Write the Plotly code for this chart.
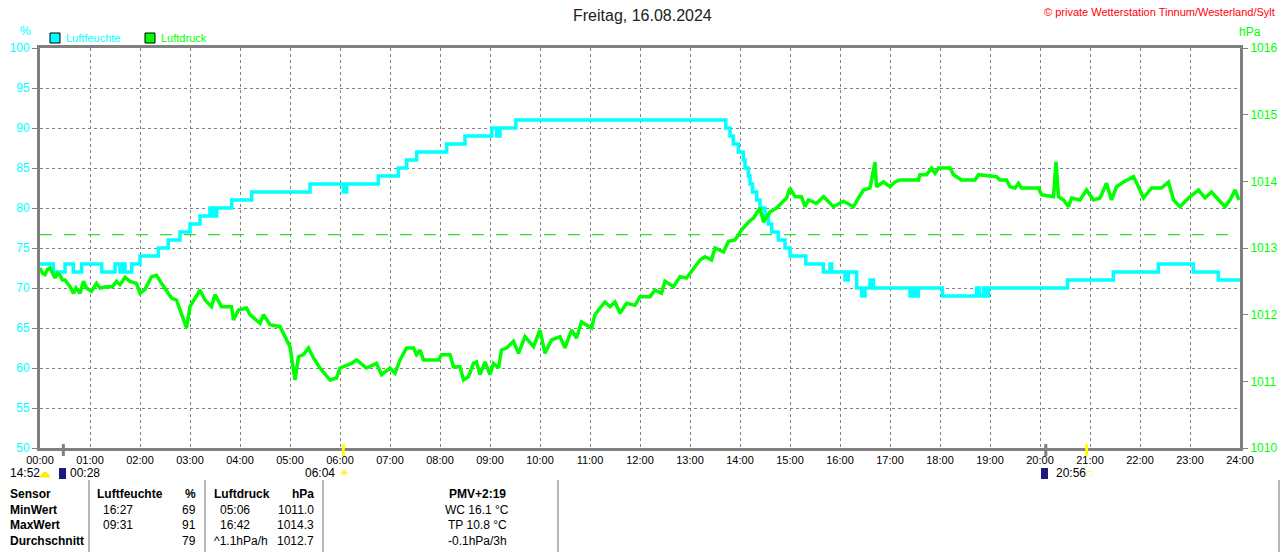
import plotly.graph_objects as go

# chart title / header texts
chart_title = "Freitag, 16.08.2024"
station_text = "© private Wetterstation Tinnum/Westerland/Sylt"

# humidity (%), step changes: time (HH:MM) -> value
hum_times = ["00:00", "00:16", "00:30", "00:40", "00:50", "01:14", "01:30", "01:36", "01:40", "01:42",
             "01:50", "02:00", "02:22", "02:34", "02:48", "03:00", "03:12", "03:24", "03:28", "03:32",
             "03:50", "04:14", "05:24", "06:04", "06:08", "06:46", "07:10", "07:20", "07:32", "08:08",
             "08:30", "09:02", "09:08", "09:12", "09:31", "13:43", "13:48", "13:52", "13:58", "14:04",
             "14:06", "14:10", "14:12", "14:15", "14:20", "14:24", "14:30", "14:34", "14:38", "14:46",
             "14:54", "15:00", "15:19", "15:40", "15:48", "15:50", "16:04", "16:06", "16:10", "16:20",
             "16:26", "16:30", "16:36", "16:40", "17:24", "17:28", "17:31", "17:34", "18:03", "18:44",
             "18:47", "18:52", "18:56", "18:58", "20:33", "21:28", "22:22", "23:04", "23:34", "24:00"]
hum_values = [73, 72, 73, 72, 73, 72, 73, 72, 73, 72,
              73, 74, 75, 76, 77, 78, 79, 80, 79, 80,
              81, 82, 83, 82, 83, 84, 85, 86, 87, 88,
              89, 90, 89, 90, 91, 90, 89, 88, 87, 86,
              85, 84, 83, 82, 81, 80, 79, 78, 77, 76,
              75, 74, 73, 72, 73, 72, 72, 71, 72, 70,
              69, 70, 71, 70, 69, 70, 69, 70, 69, 70,
              69, 70, 69, 70, 71, 72, 73, 72, 71, 71]

# air pressure (hPa), time in decimal hours
press_hours = [0.00, 0.05, 0.10, 0.15, 0.20, 0.25, 0.30, 0.35, 0.40, 0.45, 0.50, 0.60, 0.67, 0.72, 0.80,
               0.87, 0.93, 1.03, 1.13, 1.20, 1.33, 1.45, 1.53, 1.60, 1.70, 1.80, 1.93, 2.00, 2.10, 2.23,
               2.33, 2.43, 2.53, 2.63, 2.73, 2.83, 2.93, 3.00, 3.10, 3.20, 3.30, 3.43, 3.50, 3.63, 3.83,
               3.87, 3.97, 4.13, 4.20, 4.40, 4.47, 4.60, 4.80, 4.87, 5.00, 5.10, 5.17, 5.27, 5.37, 5.47,
               5.60, 5.80, 5.93, 6.00, 6.23, 6.33, 6.53, 6.73, 6.83, 7.00, 7.10, 7.20, 7.33, 7.47, 7.53,
               7.60, 7.67, 7.97, 8.03, 8.20, 8.27, 8.40, 8.47, 8.57, 8.67, 8.73, 8.80, 8.90, 9.00, 9.07,
               9.17, 9.23, 9.33, 9.47, 9.57, 9.70, 9.87, 10.00, 10.10, 10.23, 10.40, 10.50, 10.63, 10.73, 10.83,
               11.03, 11.10, 11.20, 11.30, 11.40, 11.50, 11.60, 11.73, 11.90, 12.00, 12.20, 12.30, 12.43, 12.50, 12.67,
               12.80, 12.93, 13.07, 13.20, 13.30, 13.43, 13.50, 13.67, 13.77, 13.90, 14.03, 14.17, 14.27, 14.40, 14.47,
               14.60, 14.73, 14.83, 14.93, 15.00, 15.10, 15.23, 15.30, 15.37, 15.53, 15.67, 15.87, 16.07, 16.27, 16.37,
               16.47, 16.60, 16.70, 16.73, 16.87, 17.00, 17.10, 17.20, 17.57, 17.60, 17.73, 17.83, 17.90, 17.97, 18.20,
               18.27, 18.43, 18.70, 18.77, 19.13, 19.20, 19.33, 19.40, 19.50, 19.57, 19.63, 19.97, 20.03, 20.27, 20.32,
               20.37, 20.47, 20.57, 20.63, 20.80, 20.93, 21.07, 21.20, 21.33, 21.43, 21.53, 21.67, 21.87, 21.97, 22.07,
               22.23, 22.43, 22.57, 22.67, 22.80, 22.97, 23.17, 23.30, 23.43, 23.57, 23.70, 23.80, 23.90, 23.98]
press_values = [1012.70, 1012.62, 1012.60, 1012.68, 1012.70, 1012.62, 1012.55, 1012.62, 1012.59, 1012.52,
                1012.52, 1012.42, 1012.32, 1012.40, 1012.32, 1012.50, 1012.40, 1012.35, 1012.47, 1012.40,
                1012.42, 1012.42, 1012.50, 1012.45, 1012.56, 1012.50, 1012.47, 1012.32, 1012.38, 1012.57,
                1012.59, 1012.47, 1012.37, 1012.25, 1012.22, 1012.02, 1011.80, 1012.12, 1012.25, 1012.37,
                1012.22, 1012.12, 1012.30, 1012.12, 1012.12, 1011.92, 1012.07, 1012.10, 1012.00, 1011.87,
                1012.00, 1011.85, 1011.82, 1011.72, 1011.52, 1011.02, 1011.37, 1011.40, 1011.50, 1011.35,
                1011.20, 1011.02, 1011.05, 1011.20, 1011.27, 1011.32, 1011.20, 1011.27, 1011.10, 1011.20,
                1011.12, 1011.32, 1011.50, 1011.50, 1011.40, 1011.47, 1011.32, 1011.32, 1011.40, 1011.40,
                1011.22, 1011.22, 1011.02, 1011.07, 1011.27, 1011.29, 1011.10, 1011.29, 1011.10, 1011.27,
                1011.20, 1011.47, 1011.50, 1011.60, 1011.42, 1011.67, 1011.52, 1011.77, 1011.42, 1011.62,
                1011.67, 1011.50, 1011.77, 1011.65, 1011.89, 1011.80, 1012.00, 1012.10, 1012.19, 1012.12,
                1012.19, 1012.02, 1012.17, 1012.14, 1012.27, 1012.27, 1012.37, 1012.32, 1012.50, 1012.42,
                1012.57, 1012.55, 1012.70, 1012.82, 1012.87, 1012.82, 1013.00, 1012.94, 1013.10, 1013.12,
                1013.27, 1013.39, 1013.45, 1013.60, 1013.39, 1013.54, 1013.60, 1013.67, 1013.75, 1013.90,
                1013.77, 1013.77, 1013.62, 1013.72, 1013.67, 1013.77, 1013.62, 1013.70, 1013.62, 1013.75,
                1013.87, 1013.90, 1014.29, 1013.92, 1013.99, 1013.92, 1013.99, 1014.02, 1014.02, 1014.10,
                1014.10, 1014.20, 1014.12, 1014.20, 1014.20, 1014.10, 1014.02, 1014.02, 1014.10, 1014.07,
                1014.02, 1014.02, 1013.92, 1013.90, 1013.97, 1013.90, 1013.90, 1013.80, 1013.77, 1014.29,
                1013.77, 1013.72, 1013.62, 1013.75, 1013.72, 1013.87, 1013.72, 1013.75, 1013.97, 1013.72,
                1013.92, 1013.99, 1014.07, 1013.92, 1013.75, 1013.90, 1013.90, 1013.99, 1013.72, 1013.62,
                1013.75, 1013.87, 1013.75, 1013.84, 1013.72, 1013.62, 1013.72, 1013.87, 1013.72]

# dashed pressure reference line
press_ref = 1013.2

# x axis ticks
tick_hours = list(range(25))
tick_labels = ["%02d:00" % h for h in tick_hours]

# sun / moon events shown below the axis
event_times = ["00:28", "06:04", "20:07", "20:56"]
event_colors = ["#808080", "#ffff00", "#808080", "#ffff00"]

# table below the chart
table_rows = ["Sensor", "MinWert", "MaxWert", "Durchschnitt"]
hum_time_col = ["Luftfeuchte", "16:27", "09:31", ""]
hum_val_col = ["%", "69", "91", "79"]
press_time_col = ["Luftdruck", "05:06", "16:42", "^1.1hPa/h"]
press_val_col = ["hPa", "1011.0", "1014.3", "1012.7"]
extra_col = ["PMV+2:19", "WC 16.1 °C", "TP 10.8 °C", "-0.1hPa/3h"]

HUM_COLOR = "#00ffff"
PRESS_COLOR = "#00ff00"
GRID = "#808080"
FONT = "Liberation Sans"


def to_hours(t):
    h, m = t.split(":")
    return int(h) + int(m) / 60.0


# pixel helpers for the decorations outside the plot area
# (plot area sits at x 40..1240, y 48..448)
def px(x):
    return (x - 40) / 1200.0


def py(y):
    return (448 - y) / 400.0


fig = go.Figure()

fig.add_trace(go.Scatter(x=press_hours, y=press_values, yaxis="y2", mode="lines",
                         line=dict(color=PRESS_COLOR, width=3.5), name="Luftdruck"))
fig.add_trace(go.Scatter(x=[to_hours(t) for t in hum_times], y=hum_values, mode="lines",
                         line=dict(color=HUM_COLOR, width=3.5, shape="hv"), name="Luftfeuchte"))

# pressure reference line
fig.add_shape(type="line", xref="x", yref="y2", x0=0, x1=23.8, y0=press_ref, y1=press_ref,
              line=dict(color="#33dd33", width=1.2, dash="12px,12px"))

# event marks below the axis
for t, c in zip(event_times, event_colors):
    fig.add_shape(type="line", xref="x", yref="paper", x0=to_hours(t), x1=to_hours(t),
                  y0=py(444), y1=py(456), line=dict(color=c, width=3))

# legend boxes
for x0, col, label in [(50, HUM_COLOR, "Luftfeuchte"), (145, PRESS_COLOR, "Luftdruck")]:
    fig.add_shape(type="rect", xref="paper", yref="paper", x0=px(x0), x1=px(x0 + 10),
                  y0=py(43), y1=py(33), fillcolor=col, line=dict(color="black", width=1))
    fig.add_annotation(x=px(x0 + 14), y=py(38), xref="paper", yref="paper", text=label,
                       showarrow=False, xanchor="left", yanchor="middle",
                       font=dict(family=FONT, size=11, color=col))

annos = [
    dict(x=px(642), y=py(16), text=chart_title, xanchor="center", font=dict(size=16, color="#222222")),
    dict(x=px(1277), y=py(12), text=station_text, xanchor="right", font=dict(size=11, color="#ff0000")),
    dict(x=px(25), y=py(31), text="%", xanchor="center", font=dict(size=12, color=HUM_COLOR)),
    dict(x=px(1250), y=py(32), text="hPa", xanchor="center", font=dict(size=12, color=PRESS_COLOR)),
    dict(x=px(8), y=py(473), text="14:52", xanchor="left", font=dict(size=12, color="black")),
    dict(x=px(68), y=py(473), text="00:28", xanchor="left", font=dict(size=12, color="black")),
    dict(x=px(337), y=py(473), text="06:04", xanchor="right", font=dict(size=12, color="black")),
    dict(x=px(344), y=py(473), text="☀", xanchor="center", font=dict(size=12, color="#ffee00")),
    dict(x=px(1054), y=py(473), text="20:56", xanchor="left", font=dict(size=12, color="black")),
    dict(x=px(1090), y=py(474), text="□", xanchor="center", font=dict(size=9, color="#ffee00")),
]

# moon / moonrise icons
fig.add_shape(type="path", xref="paper", yref="paper",
              path="M %f %f Q %f %f %f %f Z" % (px(40), py(477), px(45), py(467), px(50), py(477)),
              fillcolor="#ffee00", line=dict(color="#ffee00", width=1))
for x0 in [59, 1041]:
    fig.add_shape(type="rect", xref="paper", yref="paper", x0=px(x0), x1=px(x0 + 7),
                  y0=py(479), y1=py(468), fillcolor="#1a1a80", line=dict(width=0))

# table
row_y = [494, 510, 525, 541]
for i, y in enumerate(row_y):
    head = i == 0

    def w(s):
        return "<b>%s</b>" % s if (head and s) else s

    annos.append(dict(x=px(8), y=py(y), text="<b>%s</b>" % table_rows[i], xanchor="left"))
    annos.append(dict(x=px(95 if head else 101), y=py(y), text=w(hum_time_col[i]), xanchor="left"))
    annos.append(dict(x=px(198), y=py(y), text=w(hum_val_col[i]), xanchor="right"))
    annos.append(dict(x=px(212 if (head or i == 3) else 218), y=py(y), text=w(press_time_col[i]),
                      xanchor="left"))
    annos.append(dict(x=px(316), y=py(y), text=w(press_val_col[i]), xanchor="right"))
    annos.append(dict(x=px(477), y=py(y), text=w(extra_col[i]), xanchor="center"))

for a in annos:
    a.setdefault("xref", "paper")
    a.setdefault("yref", "paper")
    a.setdefault("showarrow", False)
    a.setdefault("yanchor", "middle")
    a.setdefault("font", dict(size=12, color="black"))
    fig.add_annotation(**a)

for x0 in [89, 205, 323, 558, 1279]:
    fig.add_shape(type="line", xref="paper", yref="paper", x0=px(x0), x1=px(x0),
                  y0=py(480), y1=py(552), line=dict(color="#a0a0a0", width=1.5))

fig.update_layout(
    width=1280, height=552,
    margin=dict(l=40, r=40, t=48, b=104, autoexpand=False),
    paper_bgcolor="white", plot_bgcolor="white",
    showlegend=False,
    font=dict(family=FONT, size=12, color="black"),
    xaxis=dict(range=[0, 24], tickvals=tick_hours, ticktext=tick_labels, showgrid=True,
               gridcolor=GRID, griddash="3px,3px", gridwidth=1, showline=True, linecolor=GRID,
               linewidth=3, mirror=True, ticks="", zeroline=False, automargin=False,
               tickfont=dict(size=11, color="black")),
    yaxis=dict(range=[50, 100], dtick=5, showgrid=True, gridcolor=GRID, griddash="3px,3px",
               showline=True, linecolor=GRID, linewidth=3, ticks="outside", ticklen=5, tickcolor=GRID,
               zeroline=False, automargin=False, tickfont=dict(size=12, color=HUM_COLOR)),
    yaxis2=dict(range=[1010, 1016], dtick=1, overlaying="y", side="right", showgrid=False,
                showline=True, linecolor=GRID, linewidth=3, ticks="outside", ticklen=5, tickcolor=GRID,
                zeroline=False, automargin=False, tickfont=dict(size=12, color=PRESS_COLOR)),
)

# drop the default 8px page margin so the figure fills the window exactly
fig.write_html("out.html", config={"displayModeBar": False},
               post_script="document.body.style.margin = '0px';")
